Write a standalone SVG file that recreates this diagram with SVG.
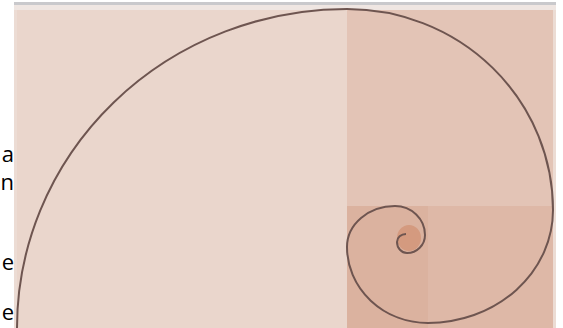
<svg xmlns="http://www.w3.org/2000/svg" width="563" height="328" viewBox="0 0 563 328">
<style>
.t{font-family:"Open Sans","Liberation Sans",sans-serif;font-size:22px;fill:#000}
.sp{fill:none;stroke:#6e5550;stroke-width:2}
</style>
<rect x="0" y="0" width="563" height="328" fill="#ffffff"/>
<g id="frame">
<rect x="14" y="2" width="542" height="326" fill="#ecdcd4"/>
<rect x="14" y="2" width="542" height="3" fill="#c9c9cc"/>
<rect x="14" y="5" width="542" height="5" fill="#efe6e2"/>
</g>
<g id="sq1"><rect x="17" y="10" width="330" height="318" fill="#ead6cc"/></g>
<g id="sq2"><rect x="347" y="10" width="206" height="196" fill="#e3c4b6"/></g>
<g id="sq3"><rect x="428" y="206" width="125" height="122" fill="#deb8a7"/></g>
<g id="sq4"><rect x="347" y="206" width="81" height="122" fill="#dbb29f"/></g>
<g id="core"><ellipse cx="409" cy="238" rx="12" ry="13" fill="#d49a7f"/></g>
<g id="connectors">
<path class="sp" d="M17,328 A330,319 0 0 1 347,9 A206,201 0 0 1 553,210 A125,113 0 0 1 428,323 A81,76 0 0 1 347,247 A48,41 0 0 1 395,206 A30,29 0 0 1 425,235 A18,18 0 0 1 407,253 A10,11 0 0 1 397,242 A9,8 0 0 1 406,234"/>
</g>
<g id="texts">
<text class="t" x="14" y="162" text-anchor="end">a</text>
<text class="t" x="14" y="190" text-anchor="end">n</text>
<text class="t" x="14" y="270" text-anchor="end">e</text>
<text class="t" x="14" y="320" text-anchor="end">e</text>
</g>
</svg>
